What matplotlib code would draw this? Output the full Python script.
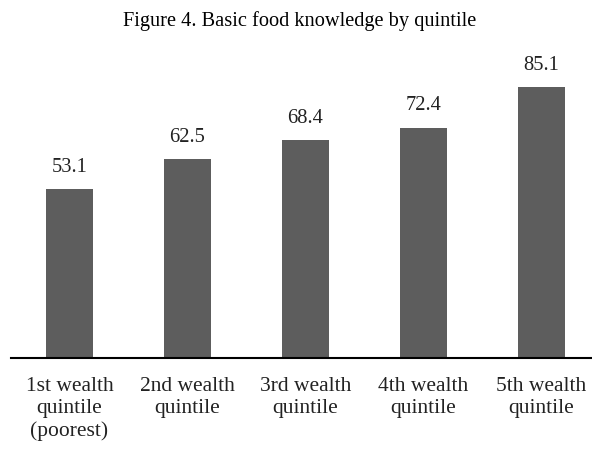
import matplotlib
matplotlib.use("Agg")
import matplotlib.pyplot as plt

categories = ["1st wealth\nquintile\n(poorest)", "2nd wealth\nquintile", "3rd wealth\nquintile",
              "4th wealth\nquintile", "5th wealth\nquintile"]
values = [53.1, 62.5, 68.4, 72.4, 85.1]
title = "Figure 4. Basic food knowledge by quintile"

plt.rcParams['font.family'] = ['Liberation Serif', 'DejaVu Serif']

W, H = 592, 451
fig = plt.figure(figsize=(W / 100, H / 100), dpi=100)
# axes: left 11px, right 592px, bottom at y=358, top at y=60
ax = fig.add_axes([11 / W, (H - 358) / H, (592 - 11) / W, (358 - 60) / H])
x = list(range(len(values)))
bars = ax.bar(x, values, width=0.4, color="#5d5d5d", zorder=2)
ax.set_xlim(-0.496, -0.496 + 581 / 118)
ax.set_ylim(0, (358 - 60) / 3.18)

for xi, v in zip(x, values):
    ax.annotate(f"{v:.1f}", (xi, v), xytext=(0, 12.5), textcoords="offset points",
                ha="center", va="baseline", fontsize=14.8, color="#222222")

ax.set_xticks(x)
ax.set_xticklabels(categories, fontsize=15.5, color="#222222", linespacing=1.2)
ax.tick_params(axis="x", length=0, pad=14)
ax.set_yticks([])
for s in ["top", "right", "left"]:
    ax.spines[s].set_visible(False)
ax.spines["bottom"].set_linewidth(1.5)
ax.spines["bottom"].set_color("black")

fig.text(300 / W, 1 - 21 / H, title, ha="center", va="center", fontsize=14.7, color="black")

fig.savefig("out.png", dpi=100)
